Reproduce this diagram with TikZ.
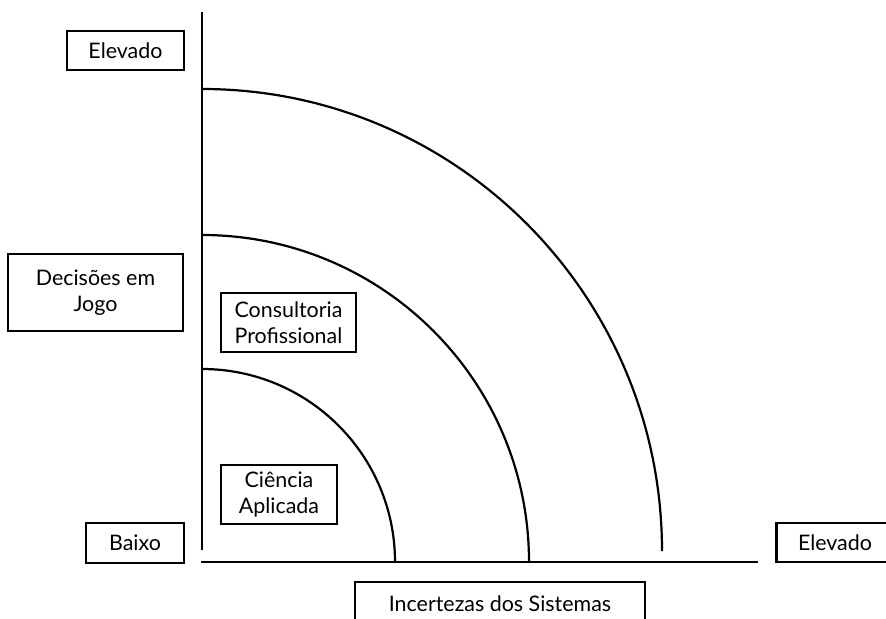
\documentclass[tikz,border=0pt]{standalone}
\usepackage{fontspec}
\setmainfont{Lato}
\begin{document}
\begin{tikzpicture}[x=1bp,y=-1bp,
  lbl/.style={draw, line width=2.2bp, rectangle, inner sep=0pt, align=center,
    font=\fontsize{21.5}{26}\selectfont},
  axis/.style={line width=2.6bp},
  ring/.style={line width=2.2bp}]
\useasboundingbox (0,0) rectangle (886,619);
\fill[white] (0,0) rectangle (886,619);
% axes
\coordinate (vtop) at (202,12);
\coordinate (vbot) at (202,550);
\coordinate (hleft) at (201,562);
\coordinate (hright) at (758,562);
\draw[axis] (vtop) -- (vbot);
\draw[axis] (hleft) -- (hright);
% arcs
\draw[ring] (202,369) arc[start angle=90, end angle=0, radius=193bp];
\draw[ring] (202,235) arc[start angle=90, end angle=0, radius=327bp];
\draw[ring] (202,89) arc[start angle=90, end angle=0, x radius=460bp, y radius=462bp];
% labels
\node[lbl, minimum width=117bp, minimum height=39bp] (elevy) at (125.5,50.5) {Elevado};
\node[lbl, minimum width=175bp, minimum height=77bp] (decis) at (95.5,292.5) {Decisões em\\Jogo};
\node[lbl, minimum width=135bp, minimum height=59bp] (consul) at (288.5,322.5) {Consultoria\\Profissional};
\node[lbl, minimum width=116bp, minimum height=59bp] (ciencia) at (279,494.5) {Ciência\\Aplicada};
\node[lbl, minimum width=98bp, minimum height=40bp] (baixo) at (135,543) {Baixo};
\node[lbl, minimum width=117bp, minimum height=39bp] (elevx) at (835,542.5) {Elevado};
\node[lbl, minimum width=290bp, minimum height=44bp] (incert) at (500,604) {Incertezas dos Sistemas};
\end{tikzpicture}
\end{document}
